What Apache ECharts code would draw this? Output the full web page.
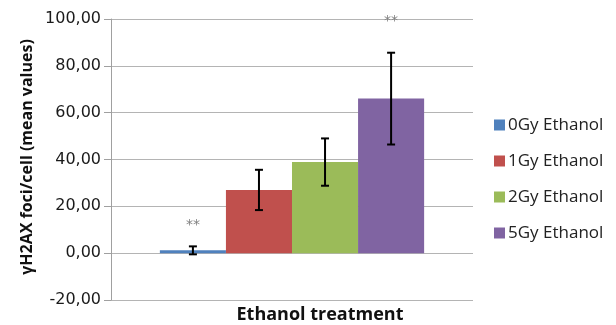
<!DOCTYPE html>
<html>
<head>
<meta charset="utf-8">
<script src="https://cdn.jsdelivr.net/npm/echarts@6/dist/echarts.min.js"></script>
<style>html,body{margin:0;padding:0;background:#fff}#c{width:616px;height:325px}</style>
</head>
<body>
<div id="c"></div>
<script>
var categories = ['Ethanol treatment'];
var seriesNames = ['0Gy Ethanol', '1Gy Ethanol', '2Gy Ethanol', '5Gy Ethanol'];
var meanValues = [1.2, 27.0, 38.9, 66.0];
var errorValues = [1.7, 8.6, 10.1, 19.6];
var starLabels = ['**', '', '', '**'];
var starValues = [12.0, null, null, 98.8];
var colors = ['#4F81BD', '#C0504D', '#9BBB59', '#8064A2'];
var yTicks = [-20, 0, 20, 40, 60, 80, 100];

var GAP = 0.27;
var chart = echarts.init(document.getElementById('c'), null, {renderer: 'canvas'});

function barCenter(api, idx) {
  var band = api.size([1, 0])[0];
  var bw = band * (1 - GAP) / seriesNames.length;
  return api.coord([0, 0])[0] + (idx - (seriesNames.length - 1) / 2) * bw;
}

var series = seriesNames.map(function (n, i) {
  var d = categories.map(function () { return meanValues[i]; });
  return {
    name: n, type: 'bar', data: d,
    barGap: '0%', barCategoryGap: (GAP * 100) + '%',
    itemStyle: {color: colors[i]},
    emphasis: {disabled: true}
  };
});

series.push({
  type: 'custom', name: 'err', z: 5,
  data: meanValues.map(function (m, i) { return [0, m, errorValues[i], i]; }),
  renderItem: function (params, api) {
    var cx = barCenter(api, api.value(3));
    var m = api.value(1), e = api.value(2);
    var yt = api.coord([0, m + e])[1];
    var yb = api.coord([0, m - e])[1];
    var st = {stroke: '#000', lineWidth: 2};
    return {type: 'group', children: [
      {type: 'line', shape: {x1: cx, y1: yt, x2: cx, y2: yb}, style: st},
      {type: 'line', shape: {x1: cx - 4, y1: yt, x2: cx + 4, y2: yt}, style: st},
      {type: 'line', shape: {x1: cx - 4, y1: yb, x2: cx + 4, y2: yb}, style: st}
    ]};
  }
});

series.push({
  type: 'custom', name: 'stars', z: 6,
  data: starValues.map(function (v, i) { return [0, v == null ? 0 : v, i]; }),
  renderItem: function (params, api) {
    var i = api.value(2);
    if (!starLabels[i]) return null;
    var cx = barCenter(api, i);
    var y = api.coord([0, api.value(1)])[1];
    return {type: 'text', style: {x: cx, y: y, text: starLabels[i], fill: '#808080',
      font: '14px "DejaVu Sans"', align: 'center', verticalAlign: 'middle'}};
  }
});

chart.setOption({
  animation: false,
  color: colors,
  grid: {left: 111, right: 143, top: 19, bottom: 25, containLabel: false},
  legend: {
    data: seriesNames, orient: 'vertical', left: 489, top: 111,
    itemWidth: 11, itemHeight: 11, itemGap: 18, icon: 'rect',
    textStyle: {fontFamily: 'Open Sans', fontSize: 17, color: '#222', lineHeight: 18, padding: [0,0,0,-2]}
  },
  xAxis: {
    type: 'category', data: categories,
    axisLine: {show: false}, axisTick: {show: false}, axisLabel: {show: false}
  },
  yAxis: {
    type: 'value', min: yTicks[0], max: yTicks[yTicks.length - 1], interval: 20,
    axisLine: {show: true, lineStyle: {color: '#a0a0a0', width: 1}},
    axisTick: {show: true, length: 7, lineStyle: {color: '#a0a0a0'}},
    splitLine: {show: true, lineStyle: {color: '#b4b4b4', width: 1}},
    axisLabel: {
      margin: 10, color: '#1a1a1a', fontFamily: 'DejaVu Sans', fontSize: 16,
      formatter: function (v) { return v.toFixed(2).replace('.', ','); }
    }
  },
  graphic: [
    {type: 'text', x: 320, y: 315, style: {text: 'Ethanol treatment',
      font: 'bold 18px "Open Sans"', fill: '#111', align: 'center', verticalAlign: 'middle'}},
    {type: 'text', x: 27, y: 157, rotation: Math.PI / 2,
      style: {text: 'γH2AX foci/cell (mean values)', font: 'bold 16px "Open Sans"', fill: '#111',
        align: 'center', verticalAlign: 'middle'}}
  ],
  series: series
});
</script>
</body>
</html>
